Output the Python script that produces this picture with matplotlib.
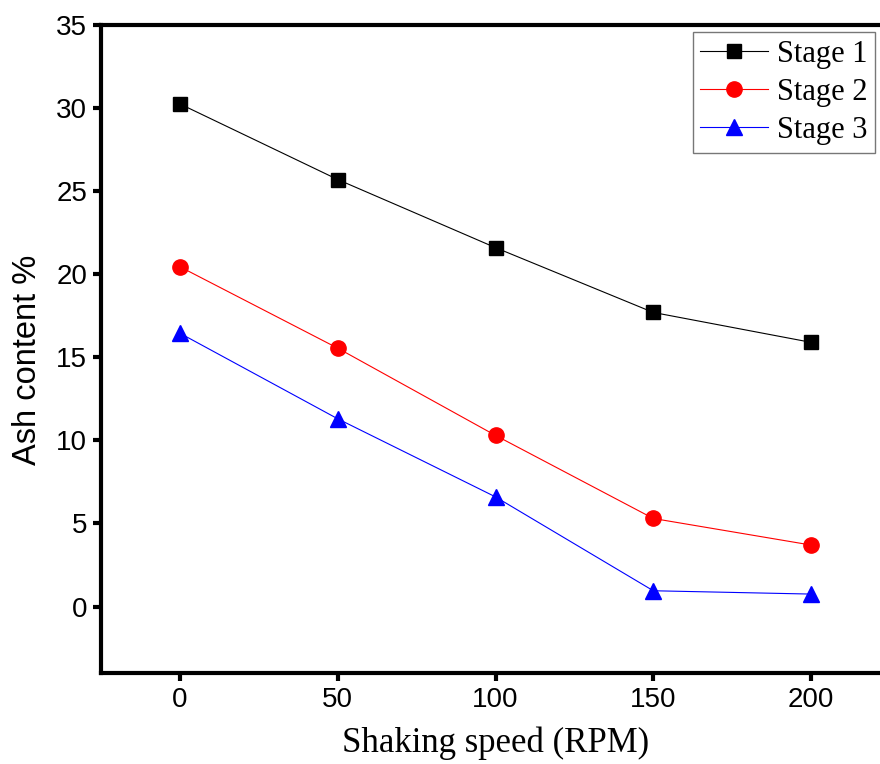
import matplotlib.pyplot as plt

speed = [0, 50, 100, 150, 200]
stage1 = [30.25, 25.7, 21.6, 17.7, 15.9]
stage2 = [20.45, 15.55, 10.3, 5.3, 3.7]
stage3 = [16.45, 11.3, 6.6, 0.95, 0.75]

fig = plt.figure(figsize=(8.8, 7.64), dpi=100)
ax = fig.add_axes([101 / 880, 1 - 673 / 764, 789 / 880, 648 / 764])

ax.plot(speed, stage1, color='black', lw=0.8, marker='s', ms=10, label='Stage 1')
ax.plot(speed, stage2, color='red', lw=0.8, marker='o', ms=11, label='Stage 2')
ax.plot(speed, stage3, color='blue', lw=0.8, marker='^', ms=12, label='Stage 3')

ax.set_xlim(-25, 225)
ax.set_ylim(-4, 35)
ax.set_xticks([0, 50, 100, 150, 200])
ax.set_yticks([0, 5, 10, 15, 20, 25, 30, 35])

for s in ax.spines.values():
    s.set_linewidth(3)
ax.tick_params(direction='out', length=6, width=3, labelsize=20, pad=4)
for lab in ax.get_xticklabels() + ax.get_yticklabels():
    lab.set_family('Liberation Sans')

ax.set_xlabel('Shaking speed (RPM)', family='Liberation Serif', fontsize=25, labelpad=10)
ax.set_ylabel('Ash content %', family='Liberation Sans', fontsize=23.5)
ax.yaxis.set_label_coords(-0.073, 0.483)

leg = fig.legend(loc='upper right', bbox_to_anchor=(875 / 880, 1 - 32 / 764),
                 prop={'family': 'Liberation Serif', 'size': 22}, fancybox=False,
                 edgecolor='#555555', borderaxespad=0, handlelength=2.2,
                 labelspacing=0.3, borderpad=0.25, handletextpad=0.3)
leg.get_frame().set_linewidth(1)

fig.savefig('out.png', dpi=100)
